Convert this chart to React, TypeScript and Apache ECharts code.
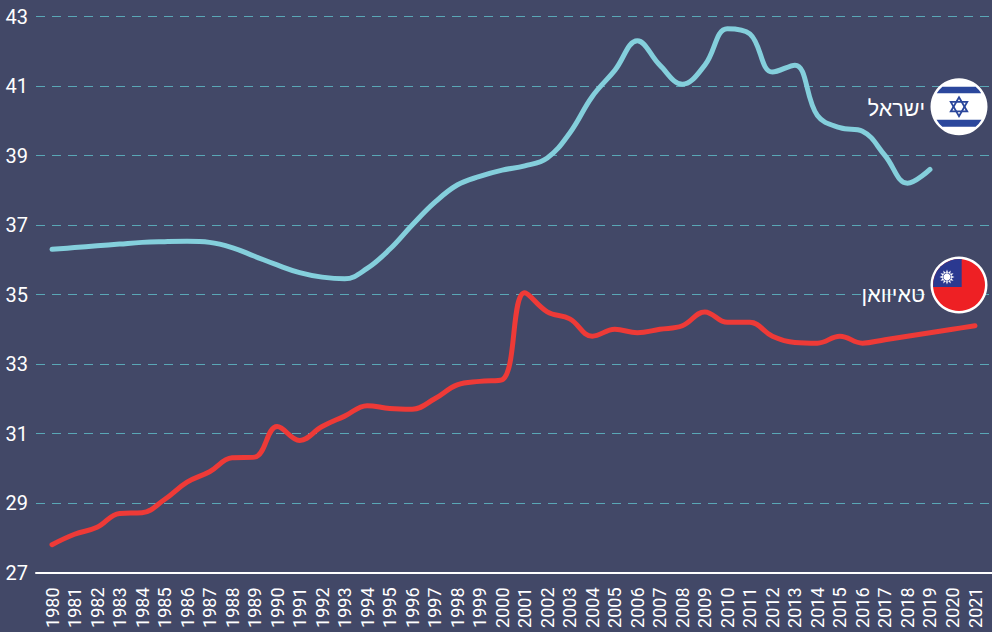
import React, { useEffect, useRef } from "react";
import * as echarts from "echarts";

const years = ["1980","1981","1982","1983","1984","1985","1986","1987","1988","1989","1990","1991","1992","1993","1994","1995","1996","1997","1998","1999","2000","2001","2002","2003","2004","2005","2006","2007","2008","2009","2010","2011","2012","2013","2014","2015","2016","2017","2018","2019","2020","2021"];
const israel = [36.3,36.35,36.4,36.45,36.5,36.52,36.53,36.5,36.35,36.1,35.85,35.63,35.5,35.45,35.75,36.3,37.0,37.65,38.15,38.4,38.58,38.7,38.93,39.65,40.7,41.45,42.3,41.6,41.05,41.6,42.65,42.5,41.4,41.6,40.15,39.8,39.7,39.0,38.2,38.6,null,null];
const taiwan = [27.8,28.1,28.3,28.7,28.72,29.1,29.6,29.9,30.3,30.32,31.2,30.8,31.2,31.5,31.8,31.72,31.7,32.0,32.4,32.5,32.55,35.05,34.5,34.3,33.8,34.0,33.9,34.0,34.1,34.5,34.2,34.2,33.8,33.62,33.6,33.8,33.6,33.7,33.8,33.9,34.0,34.1];
const yTicks = [27,29,31,33,35,37,39,41,43];
const israelName = "ישראל";
const taiwanName = "טאיוואן";

const BG = "#424867";
const TEAL = "#84cfdc";
const RED = "#ee3a37";
const IL_BLUE = "#2b479c";
const TW_BLUE = "#2b3990";
const TW_RED = "#ee2024";

function band(cx: number, cy: number, r: number, d1: number, d2: number) {
  const w1 = Math.sqrt(r * r - d1 * d1);
  const w2 = Math.sqrt(r * r - d2 * d2);
  const y1 = cy + d1, y2 = cy + d2;
  return `M${cx - w1} ${y1}L${cx + w1} ${y1}A${r} ${r} 0 0 1 ${cx + w2} ${y2}L${cx - w2} ${y2}A${r} ${r} 0 0 1 ${cx - w1} ${y1}Z`;
}

function triangle(cx: number, cy: number, R: number, up: boolean) {
  const s = up ? -1 : 1;
  return [
    [cx, cy + s * R],
    [cx + R * 0.866, cy - s * R * 0.5],
    [cx - R * 0.866, cy - s * R * 0.5],
  ];
}

function sunPoints(cx: number, cy: number, Ro: number, Ri: number, n: number) {
  const pts: number[][] = [];
  for (let i = 0; i < n * 2; i++) {
    const a = (Math.PI * i) / n - Math.PI / 2;
    const rr = i % 2 === 0 ? Ro : Ri;
    pts.push([cx + rr * Math.cos(a), cy + rr * Math.sin(a)]);
  }
  return pts;
}

let registered = false;
function registerShapes() {
  if (registered) return;
  registered = true;
  const il1 = band(959, 106.7, 26, -20, -13.5);
  const il2 = band(959, 106.7, 26, 13, 20);
  echarts.graphic.registerShape("ilStripes", echarts.graphic.extendPath(il1 + il2, {}));
  const twBlue = "M961.7 287L933.1 287A26 26 0 0 1 961.7 259.1Z";
  echarts.graphic.registerShape("twBlue", echarts.graphic.extendPath(twBlue, {}));
}

export default function App() {
  const ref = useRef<HTMLDivElement>(null);
  useEffect(() => {
    registerShapes();
    const chart = echarts.init(ref.current!, undefined, { renderer: "svg" });
    chart.setOption({
      animation: false,
      backgroundColor: BG,
      textStyle: { fontFamily: "Roboto" },
      grid: [
        { left: 36, right: 0, top: 16.5, bottom: 59.5 },
        { left: 52, right: 17, top: 16.5, bottom: 59.5 },
      ],
      xAxis: [
        {
          type: "value", gridIndex: 0, min: 0, max: 1,
          axisLabel: { show: false }, axisTick: { show: false }, splitLine: { show: false },
          axisLine: { show: true, onZero: false, lineStyle: { color: "#ffffff", width: 2 } },
        },
        {
          type: "category", gridIndex: 1, data: years, boundaryGap: false,
          axisLine: { show: false }, axisTick: { show: false },
          axisLabel: { interval: 0, rotate: 90, color: "#ffffff", fontSize: 18, fontFamily: "Roboto", margin: 15 },
        },
      ],
      yAxis: [
        {
          type: "value", gridIndex: 0, min: 27, max: 43,
          axisLine: { show: false },
          axisTick: { show: false, customValues: yTicks },
          axisLabel: { customValues: yTicks, color: "#ffffff", fontSize: 20, fontFamily: "Roboto", margin: 8 },
          splitLine: { show: true, lineStyle: { color: "#5aa7b6", width: 1, type: [9, 7] } },
        },
        {
          type: "value", gridIndex: 1, min: 27, max: 43,
          axisLine: { show: false }, axisTick: { show: false }, axisLabel: { show: false }, splitLine: { show: false },
        },
      ],
      series: [
        {
          type: "line", xAxisIndex: 1, yAxisIndex: 1, data: israel, smooth: 0.4, showSymbol: false, connectNulls: false,
          lineStyle: { color: TEAL, width: 5, cap: "round" },
        },
        {
          type: "line", xAxisIndex: 1, yAxisIndex: 1, data: taiwan, smooth: 0.4, showSymbol: false,
          lineStyle: { color: RED, width: 5, cap: "round" },
        },
      ],
      graphic: [
        { type: "circle", z: 10, shape: { cx: 959, cy: 106.7, r: 28.5 }, style: { fill: "#ffffff" } },
        { type: "ilStripes", z: 11, x: 0, y: 0, style: { fill: IL_BLUE } },
        { type: "polygon", z: 11, shape: { points: triangle(959, 106.7, 9.5, true) }, style: { fill: "none", stroke: IL_BLUE, lineWidth: 1.8 } },
        { type: "polygon", z: 11, shape: { points: triangle(959, 106.7, 9.5, false) }, style: { fill: "none", stroke: IL_BLUE, lineWidth: 1.8 } },
        { type: "text", z: 11, x: 925, y: 109, style: { text: israelName, fill: "#ffffff", fontSize: 21.5, fontFamily: "Liberation Sans", align: "right", verticalAlign: "middle" } },

        { type: "circle", z: 10, shape: { cx: 959, cy: 285, r: 28.5 }, style: { fill: "#ffffff" } },
        { type: "circle", z: 11, shape: { cx: 959, cy: 285, r: 26 }, style: { fill: TW_RED } },
        { type: "twBlue", z: 12, x: 0, y: 0, style: { fill: TW_BLUE } },
        { type: "polygon", z: 13, shape: { points: sunPoints(947, 277, 7.5, 4.5, 12) }, style: { fill: "#ffffff" } },
        { type: "circle", z: 14, shape: { cx: 947, cy: 277, r: 4.2 }, style: { fill: TW_BLUE } },
        { type: "circle", z: 15, shape: { cx: 947, cy: 277, r: 3.6 }, style: { fill: "#ffffff" } },
        { type: "text", z: 11, x: 925, y: 295, style: { text: taiwanName, fill: "#ffffff", fontSize: 21.5, fontFamily: "Liberation Sans", align: "right", verticalAlign: "middle" } },
      ],
    });
    return () => chart.dispose();
  }, []);
  return <div ref={ref} style={{ position: "absolute", left: 0, top: 0, width: 992, height: 632 }} />;
}
